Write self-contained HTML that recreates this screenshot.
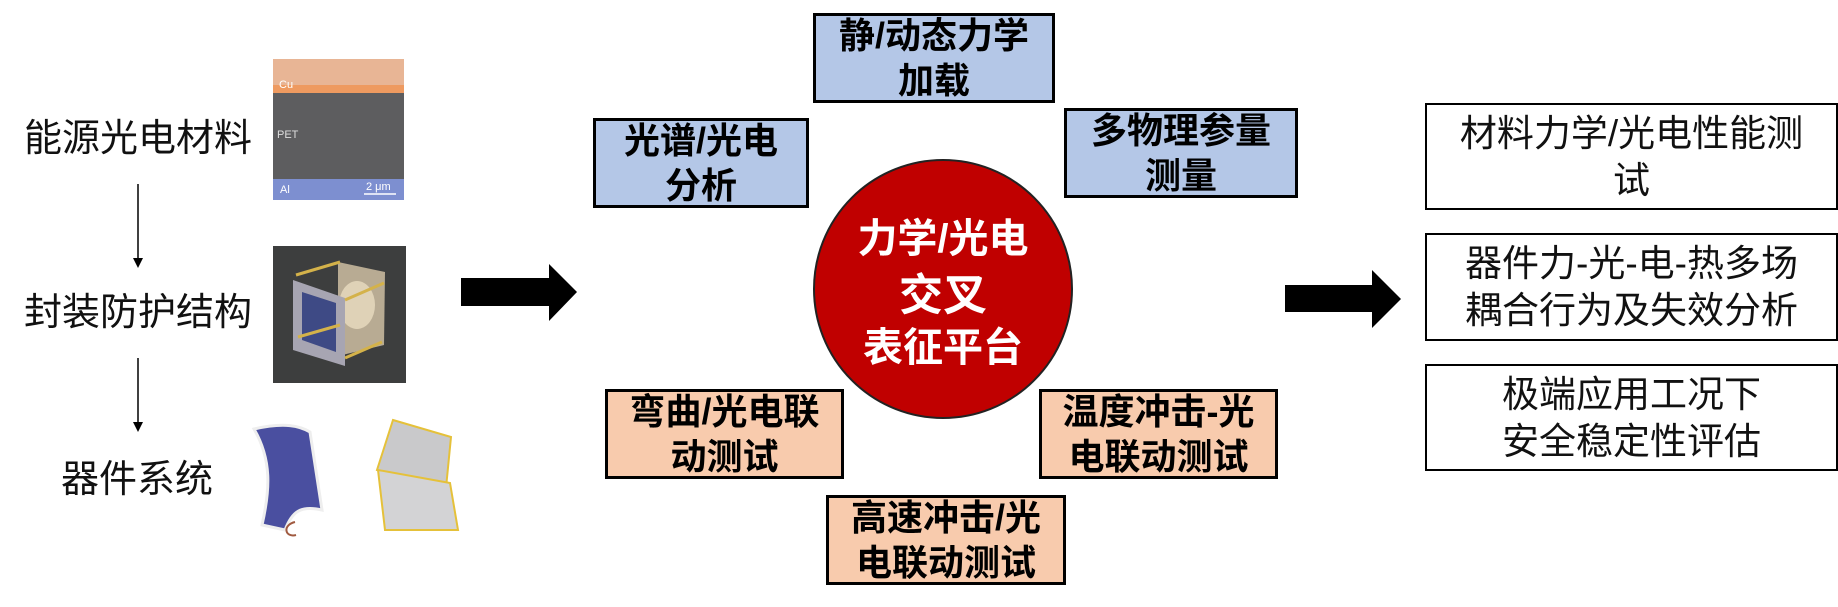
<!DOCTYPE html>
<html><head><meta charset="utf-8"><style>
body{margin:0;width:1838px;height:607px;background:#fff;position:relative;overflow:hidden;font-family:"Liberation Sans","Noto Sans CJK SC",sans-serif;}
.a{position:absolute;}
.lt{position:absolute;font-size:38px;line-height:38px;color:#111;white-space:nowrap;text-align:center;}
.bx{position:absolute;box-sizing:border-box;border:3px solid #000;font-weight:bold;font-size:36px;line-height:45px;text-align:center;color:#000;display:flex;align-items:center;justify-content:center;}
.blue{background:#b4c7e7;}
.peach{background:#f8cbad;}
.rb{position:absolute;box-sizing:border-box;border:2px solid #000;left:1425px;width:413px;font-size:37px;line-height:47px;text-align:center;display:flex;align-items:center;justify-content:center;color:#111;}
</style></head><body>
<div class="lt" style="left:18px;top:120px;width:240px;">能源光电材料</div>
<div class="lt" style="left:18px;top:294px;width:240px;">封装防护结构</div>
<div class="lt" style="left:58px;top:461px;width:158px;">器件系统</div>

<svg class="a" style="left:0;top:0" width="1838" height="607">
<line x1="138" y1="184" x2="138" y2="260" stroke="#000" stroke-width="1.5"/>
<polygon points="133,258 143,258 138,268" fill="#000"/>
<line x1="138" y1="358" x2="138" y2="424" stroke="#000" stroke-width="1.5"/>
<polygon points="133,422 143,422 138,432" fill="#000"/>
<polygon points="461,278 549,278 549,264 577,292 549,321 549,306 461,306" fill="#000"/>
<polygon points="1285,285 1372,285 1372,270 1401,299 1372,328 1372,312 1285,312" fill="#000"/>
<!-- image1 -->
<rect x="273" y="59" width="131" height="26" fill="#e8b595"/>
<rect x="273" y="85" width="131" height="8" fill="#ee9a60"/>
<rect x="273" y="93" width="131" height="86" fill="#5d5d5f"/>
<rect x="273" y="179" width="131" height="21" fill="#7d8fd0"/>
<text x="279" y="88" font-size="11" fill="#fff" font-family="Liberation Sans">Cu</text>
<text x="277" y="138" font-size="11" fill="#ddd" font-family="Liberation Sans">PET</text>
<text x="280" y="193" font-size="11" fill="#fff" font-family="Liberation Sans">Al</text>
<text x="366" y="190" font-size="11" fill="#fff" font-family="Liberation Sans">2 μm</text>
<line x1="364" y1="194" x2="396" y2="194" stroke="#fff" stroke-width="1.5"/>
<!-- image2 -->
<rect x="273" y="246" width="133" height="137" fill="#3d3e3e"/>
<polygon points="338,262 385,272 384,345 338,356" fill="#b8ab93"/>
<ellipse cx="357" cy="305" rx="18" ry="24" fill="#e8dcc0" opacity=".8"/>
<polygon points="293,280 345,298 345,366 293,350" fill="#a7a5b2"/>
<polygon points="302,292 336,303 336,352 302,340" fill="#3e4a85"/>
<line x1="296" y1="275" x2="340" y2="262" stroke="#d4b24a" stroke-width="3"/>
<line x1="345" y1="300" x2="384" y2="283" stroke="#d4b24a" stroke-width="3"/>
<line x1="298" y1="337" x2="340" y2="325" stroke="#d4b24a" stroke-width="3"/>
<line x1="345" y1="358" x2="382" y2="342" stroke="#d4b24a" stroke-width="3"/>
<!-- image3 -->
<path d="M254,429 C285,422 300,426 310,432 L322,510 C300,505 292,512 285,530 L262,525 C270,490 272,460 254,429 Z" fill="#4a4fa0" stroke="#eee" stroke-width="3"/>
<path d="M295,522 C282,525 285,538 296,535" fill="none" stroke="#a05a40" stroke-width="2"/>
<polygon points="393,420 451,437 446,488 377,470" fill="#c9c9cb" stroke="#e5c13a" stroke-width="2"/>
<polygon points="378,470 450,483 458,530 385,530" fill="#d3d3d5" stroke="#e5c13a" stroke-width="2"/>
<!-- circle -->
<ellipse cx="943" cy="289" rx="129" ry="129" fill="#c00000" stroke="#222" stroke-width="2"/>
<text x="943" y="252" font-size="40" font-weight="bold" fill="#fff" text-anchor="middle" font-family="Liberation Sans, Noto Sans CJK SC, sans-serif">力学/光电</text>
<text x="943" y="310" font-size="44" font-weight="bold" fill="#fff" text-anchor="middle" font-family="Liberation Sans, Noto Sans CJK SC, sans-serif">交叉</text>
<text x="943" y="361" font-size="40" font-weight="bold" fill="#fff" text-anchor="middle" font-family="Liberation Sans, Noto Sans CJK SC, sans-serif">表征平台</text>
</svg>

<div class="bx blue" style="left:813px;top:13px;width:242px;height:90px;">静/动态力学<br>加载</div>
<div class="bx blue" style="left:593px;top:118px;width:216px;height:90px;">光谱/光电<br>分析</div>
<div class="bx blue" style="left:1064px;top:108px;width:234px;height:90px;">多物理参量<br>测量</div>
<div class="bx peach" style="left:605px;top:389px;width:239px;height:90px;">弯曲/光电联<br>动测试</div>
<div class="bx peach" style="left:1039px;top:389px;width:239px;height:90px;">温度冲击-光<br>电联动测试</div>
<div class="bx peach" style="left:826px;top:495px;width:240px;height:90px;">高速冲击/光<br>电联动测试</div>

<div class="rb" style="top:103px;height:107px;">材料力学/光电性能测<br>试</div>
<div class="rb" style="top:233px;height:108px;">器件力-光-电-热多场<br>耦合行为及失效分析</div>
<div class="rb" style="top:364px;height:107px;">极端应用工况下<br>安全稳定性评估</div>
</body></html>
